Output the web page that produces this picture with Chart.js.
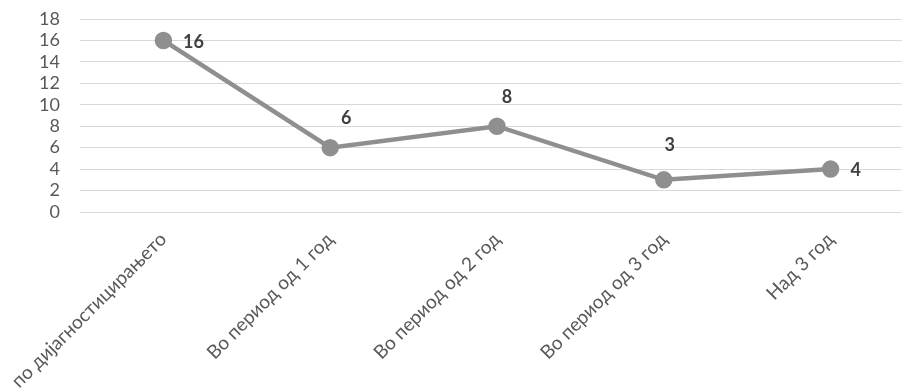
<!DOCTYPE html>
<html>
<head>
<meta charset="utf-8">
<script src="https://cdn.jsdelivr.net/npm/chart.js@4"></script>
<style>
  html, body { margin: 0; padding: 0; background: #fff; overflow: hidden; }
  #wrap { position: relative; width: 925px; height: 388px; }
</style>
</head>
<body>
<div id="wrap"><canvas id="chart" width="925" height="388"></canvas></div>
<script>
const categories = [
  "по дијагностицирањето",
  "Во период од 1 год",
  "Во период од 2 год",
  "Во период од 3 год",
  "Над 3 год"
];
const values = [16, 6, 8, 3, 4];
const yTicks = [0, 2, 4, 6, 8, 10, 12, 14, 16, 18];

// value labels next to each point (offsets in px from the point)
const pointLabels = {
  id: "pointLabels",
  afterDatasetsDraw(chart, args, opts) {
    const ctx = chart.ctx;
    const meta = chart.getDatasetMeta(0);
    ctx.save();
    ctx.font = "bold 18px Lato";
    ctx.fillStyle = "#404040";
    ctx.textAlign = "center";
    ctx.textBaseline = "middle";
    meta.data.forEach((pt, i) => {
      const off = opts.offsets[i];
      ctx.fillText(String(chart.data.datasets[0].data[i]), pt.x + off[0], pt.y + off[1]);
    });
    ctx.restore();
  }
};

new Chart(document.getElementById("chart"), {
  type: "line",
  data: {
    labels: categories,
    datasets: [{
      data: values,
      borderColor: "#8f8f8f",
      backgroundColor: "#8f8f8f",
      borderWidth: 4.5,
      pointRadius: 6.5,
      pointHoverRadius: 6.5,
      tension: 0
    }]
  },
  options: {
    responsive: false,
    animation: false,
    layout: { padding: { top: 19, right: 0, left: 0, bottom: 0 } },
    plugins: {
      legend: { display: false },
      tooltip: { enabled: false },
      pointLabels: { offsets: [[30, 2], [16, -29], [10, -29], [6, -35], [25, 1]] }
    },
    scales: {
      x: {
        offset: true,
        grid: { display: false },
        border: { display: false },
        ticks: {
          color: "#595959",
          font: { family: "Lato", size: 19 },
          maxRotation: 45,
          minRotation: 45,
          autoSkip: false,
          padding: 8
        },
        afterFit(scale) {
          scale.height = 176;
          scale.paddingLeft = 0;
          scale.paddingRight = 0;
        }
      },
      y: {
        min: 0,
        max: 18,
        afterBuildTicks(scale) {
          scale.ticks = yTicks.map(v => ({ value: v }));
        },
        grid: { color: "#d9d9d9", lineWidth: 1, drawTicks: false },
        border: { display: false },
        ticks: {
          color: "#595959",
          font: { family: "Lato", size: 18 },
          autoSkip: false,
          padding: 20
        },
        afterFit(scale) {
          scale.width = 80;
          scale.paddingTop = 0;
          scale.paddingBottom = 0;
        }
      }
    }
  },
  plugins: [pointLabels]
});
</script>
</body>
</html>
